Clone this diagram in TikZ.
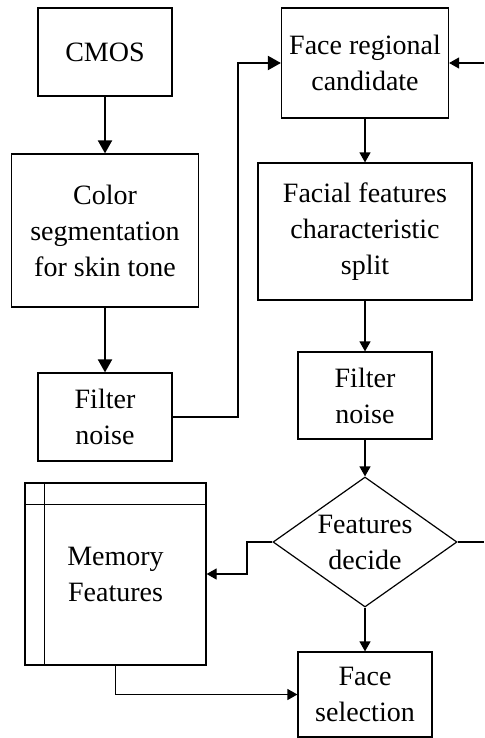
\documentclass[tikz,border=0pt]{standalone}
\usepackage{fontspec}
\setmainfont{Liberation Serif}
\usepackage{tikz}
\usetikzlibrary{positioning, arrows.meta, shapes.geometric}

\begin{document}
\begin{tikzpicture}[x=0.5pt, y=-0.5pt,
  box/.style={draw, line width=0.6pt, align=center, inner sep=0pt, font=\fontsize{14pt}{18pt}\selectfont},
  decide/.style={box, diamond, aspect=1.415},
  thickarrow/.style={-{Triangle[length=6.5pt, width=7pt]}, line width=1pt},
  thinarrow/.style={-{Triangle[length=5pt, width=5.5pt]}, line width=0.6pt}]
\useasboundingbox (0,0) rectangle (484,738);
\node[box, minimum width=67pt, minimum height=44pt] (cmos) at (105,52) {CMOS};
\node[box, minimum width=93.5pt, minimum height=76.5pt] (color) at (105,230.5) {Color\\segmentation\\for skin tone};
\node[box, minimum width=67pt, minimum height=44pt] (filterL) at (105,417) {Filter\\noise};
\node[box, minimum width=83.5pt, minimum height=55pt] (face) at (365,63) {Face regional\\candidate};
\node[box, minimum width=107pt, minimum height=68.5pt] (facial) at (365,231.5) {Facial features\\characteristic\\split};
\node[box, minimum width=67pt, minimum height=43.5pt] (filterR) at (365,395.5) {Filter\\noise};
\node[decide, minimum width=92pt, minimum height=65pt] (dec) at (365,542) {Features\\decide};
\node[box, minimum width=90.5pt, minimum height=91pt] (memory) at (115.5,574) {Memory\\Features};
\node[box, minimum width=67pt, minimum height=42.5pt] (facesel) at (365,694.5) {Face\\selection};
\draw[line width=0.6pt] ([xshift=10pt]memory.north west)--([xshift=10pt]memory.south west);
\draw[line width=0.6pt] ([yshift=-11pt]memory.north west)--([yshift=-11pt]memory.north east);
\coordinate (turnA) at (238,417);
\coordinate (turnB) at (247,542);
\coordinate (loopin) at (484,63);
\coordinate (loopout) at (484,542);
\draw[thickarrow] (cmos)--(color);
\draw[thickarrow] (color)--(filterL);
\draw[thickarrow] (filterL.east)--(turnA)|-(face.west);
\draw[thinarrow] (loopin)--(face.east);
\draw[thinarrow] (face)--(facial);
\draw[thinarrow] (facial)--(filterR);
\draw[thinarrow] (filterR)--(dec);
\draw[thinarrow] (dec.west)--(turnB)|-(memory.east);
\draw[line width=0.6pt] (dec.east)--(loopout);
\draw[thinarrow] (dec)--(facesel);
\draw[thinarrow] (memory.south)|-(facesel.west);
\end{tikzpicture}
\end{document}
